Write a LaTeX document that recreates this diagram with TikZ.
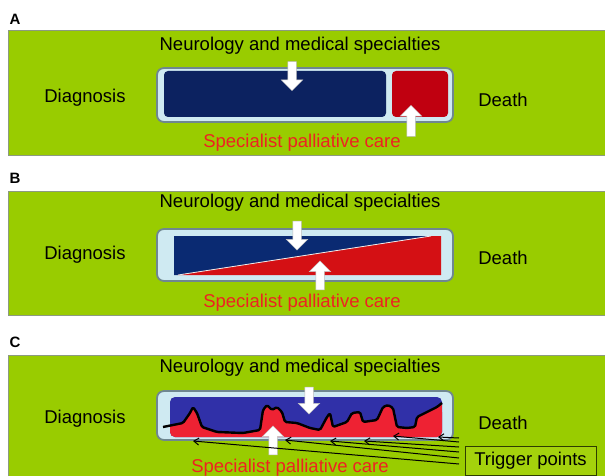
\documentclass[tikz,border=0pt]{standalone}
\usepackage{fontspec}
\setmainfont{Liberation Sans}
\usetikzlibrary{shapes.arrows,arrows.meta}
\definecolor{bg}{HTML}{99CC00}
\definecolor{bgline}{HTML}{8C9A80}
\definecolor{framefill}{HTML}{CFEAF2}
\definecolor{framedraw}{HTML}{6F8790}
\definecolor{navyA}{HTML}{0C2260}
\definecolor{redA}{HTML}{C00010}
\definecolor{navyB}{HTML}{0A2A72}
\definecolor{redB}{HTML}{D41014}
\definecolor{blueC}{HTML}{3030A8}
\definecolor{redC}{HTML}{EE2233}
\definecolor{txtred}{HTML}{EE2222}
\definecolor{trigfill}{HTML}{A4D20C}
\begin{document}
\begin{tikzpicture}[x=1pt,y=-1pt,
  panel/.style={fill=bg, draw=bgline, line width=1pt},
  lbl/.style={font=\fontsize{18.5}{20}\selectfont, inner sep=0pt},
  redlbl/.style={lbl, text=txtred},
  plab/.style={font=\bfseries\fontsize{15}{16}\selectfont, inner sep=0pt},
  outerframe/.style={fill=framefill, draw=framedraw, line width=1.8pt, rounded corners=7pt},
  bigarrow/.style={single arrow, draw=gray!50, fill=white, line width=0.5pt,
    minimum width=21pt, inner sep=4pt, single arrow head extend=6.5pt},
  downarr/.style={bigarrow, shape border rotate=270},
  uparr/.style={bigarrow, shape border rotate=90},
  trig/.style={draw=black, line width=1pt, -{Straight Barb[length=5pt,width=7pt]}}
]
\useasboundingbox (0,0) rectangle (605,476);

% ---------------- Panel A ----------------
\node[plab] (labA) at (15,19) {A};
\fill[panel] (8,31) rectangle (612,156);
\draw[outerframe] (157,68) rectangle (453,122);
\fill[navyA, rounded corners=4pt] (164,71) rectangle (386,117);
\fill[redA, rounded corners=4pt] (392,71) rectangle (448,117);
\node[lbl] (neuroA) at (300,46) {Neurology and medical specialties};
\node[lbl] (diagA) at (85,98) {Diagnosis};
\node[lbl] (deathA) at (503,100) {Death};
\node[redlbl] (palA) at (302,143) {Specialist palliative care};
\node[downarr, minimum height=29pt] (dA) at (292,74) {};
\node[uparr, minimum height=31pt] (uA) at (411,123) {};

% ---------------- Panel B ----------------
\node[plab] (labB) at (15,178) {B};
\fill[panel] (8,191) rectangle (612,315);
\draw[outerframe] (157,229) rectangle (453,281);
\fill[navyB] (174,236) -- (431,236) -- (178,275) -- (174,275) -- cycle;
\fill[redB] (178,275) -- (431,236) -- (441,236) -- (441,275) -- cycle;
\draw[white!85!gray, line width=0.8pt] (178,275) -- (431,236);
\node[lbl] (neuroB) at (300,203) {Neurology and medical specialties};
\node[lbl] (diagB) at (85,255) {Diagnosis};
\node[lbl] (deathB) at (503,258) {Death};
\node[redlbl] (palB) at (302,303) {Specialist palliative care};
\node[downarr, minimum height=29pt] (dB) at (297,233.5) {};
\node[uparr, minimum height=29pt] (uB) at (320,277.5) {};

% ---------------- Panel C ----------------
\node[plab] (labC) at (15,342) {C};
\fill[panel] (8,355) rectangle (612,482);
\draw[outerframe] (157,391) rectangle (453,440);
\fill[blueC, rounded corners=5pt] (170,397) rectangle (442,437);
\begin{scope}
  \clip[rounded corners=5pt] (170,397) rectangle (442,437);
  \fill[redC] (163,427) -- (183,423) -- (190,413) -- (193,407) -- (197,413)
    -- (202,427) -- (217,432) -- (243,433) -- (260,430) -- (263,410) -- (267,405)
    -- (272,410) -- (277,407) -- (282,412) -- (285,422) -- (297,423) -- (310,428)
    -- (320,430) -- (327,417) -- (330,413) -- (333,427) -- (347,422) -- (352,413)
    -- (360,412) -- (363,422) -- (377,420) -- (383,407) -- (388,405) -- (393,408)
    -- (397,427) -- (407,428) -- (415,427) -- (417,417) -- (427,412) -- (437,407)
    -- (442,403) -- (446,440) -- (163,440) -- cycle;
\end{scope}
\draw[black, line width=2.4pt, line join=round, rounded corners=1.5pt]
  (163,427) -- (183,423) -- (190,413) -- (193,407) -- (197,413)
    -- (202,427) -- (217,432) -- (243,433) -- (260,430) -- (263,410) -- (267,405)
    -- (272,410) -- (277,407) -- (282,412) -- (285,422) -- (297,423) -- (310,428)
    -- (320,430) -- (327,417) -- (330,413) -- (333,427) -- (347,422) -- (352,413)
    -- (360,412) -- (363,422) -- (377,420) -- (383,407) -- (388,405) -- (393,408)
    -- (397,427) -- (407,428) -- (415,427) -- (417,417) -- (427,412) -- (437,407)
    -- (442,403);
\node[lbl] (neuroC) at (300,368) {Neurology and medical specialties};
\node[lbl] (diagC) at (85,419) {Diagnosis};
\node[lbl] (deathC) at (503,423) {Death};
\node[redlbl] (palC) at (290,468) {Specialist palliative care};
\node[downarr, minimum height=27pt] (dC) at (309,398.5) {};
\node[uparr, minimum height=29pt] (uC) at (273,442.5) {};
\node[lbl, draw=black!70!bg, line width=1pt, fill=trigfill, minimum width=131pt,
  minimum height=29pt] (trigbox) at (530.5,460.5) {Trigger points};

% trigger point arrows
\coordinate (s1) at (459,438); \coordinate (t1) at (438,437);
\coordinate (s2) at (459,442); \coordinate (t2) at (393,436);
\coordinate (s3) at (459,447); \coordinate (t3) at (364,441);
\coordinate (s4) at (459,452); \coordinate (t4) at (330,441);
\coordinate (s5) at (459,458); \coordinate (t5) at (285,440);
\coordinate (s6) at (459,464); \coordinate (t6) at (193,441);
\foreach \i in {1,...,6} { \draw[trig] (s\i) -- (t\i); }
\end{tikzpicture}
\end{document}
